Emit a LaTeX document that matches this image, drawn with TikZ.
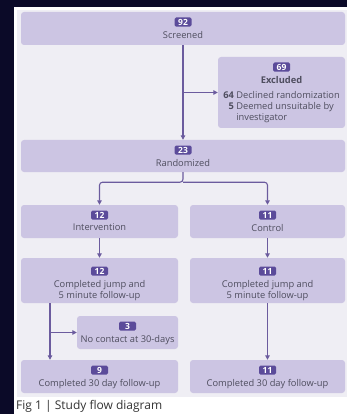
\documentclass[tikz,border=0pt]{standalone}
\usepackage{fontspec}
\setmainfont{Open Sans}
\usepackage{tikz}
\usetikzlibrary{arrows.meta, positioning}
\definecolor{darkbg}{HTML}{0B0A28}
\definecolor{panelbg}{HTML}{EFEEF4}
\definecolor{boxfill}{HTML}{CCC5E3}
\definecolor{badgefill}{HTML}{5B4B9A}
\definecolor{linecol}{HTML}{6B5B9E}
\definecolor{textcol}{HTML}{4E4D5E}
\def\labelFont{\fontsize{9.3}{11}\selectfont}
\newcommand{\flowbox}[7][5.5pt]{%
% #1 = badge offset, #2 = name, #3 = centre, #4 = width, #5 = height, #6 = count, #7 = label
\node[flowbox, minimum width=#4, minimum height=#5] (#2) at (#3) {};
\node[badge, below=#1 of #2.north] (#2n) {#6};
\node[boxlabel, below=4pt of #2n] (#2t) {#7};
}

\begin{document}
\begin{tikzpicture}[
    x=1pt, y=-1pt,
    >={Triangle[length=4.5pt,width=4.5pt]},
    flowbox/.style={rectangle, fill=boxfill, rounded corners=3pt, inner sep=0pt},
    badge/.style={rectangle, fill=badgefill, rounded corners=1.5pt, text=white,
        font=\bfseries\fontsize{8.5}{8.5}\selectfont, inner xsep=3pt, inner ysep=1.5pt,
        minimum width=17pt},
    boxlabel/.style={align=center, text=textcol, font=\labelFont, inner sep=0pt},
    link/.style={draw=linecol, line width=1.1pt, ->, rounded corners=3pt}
]
\useasboundingbox (0,0) rectangle (347,414);
\fill[darkbg] (0,0) rectangle (347,414);
\fill[white] (14,7) rectangle (347,414);
\fill[panelbg] (17,10) rectangle (347,397);

\flowbox{screen}{183,28.5}{324pt}{33pt}{92}{Screened}
\flowbox{excl}{281.5,92.5}{127pt}{71pt}{69}{\textbf{Excluded}\\[7pt]
    \begin{tabular}{@{}r@{\ }l@{}}
    \textbf{64} & Declined randomization\\
    \textbf{5} & Deemed unsuitable by\\
     & investigator
    \end{tabular}}
\flowbox{rand}{183,156}{324pt}{32pt}{23}{Randomized}
\flowbox{interv}{99.5,221.5}{157pt}{33pt}{12}{Intervention}
\flowbox{ctrl}{267.5,221.5}{155pt}{33pt}{11}{Control}
\flowbox[8.5pt]{jumpI}{99.5,280.5}{157pt}{45pt}{12}{Completed jump and\\5 minute follow-up}
\flowbox[8.5pt]{jumpC}{267.5,280.5}{155pt}{45pt}{11}{Completed jump and\\5 minute follow-up}
\flowbox{nocon}{127.5,332.5}{101pt}{33pt}{3}{No contact at 30-days}
\flowbox{finI}{99.5,376.5}{157pt}{33pt}{9}{Completed 30 day follow-up}
\flowbox{finC}{267.5,376.5}{155pt}{33pt}{11}{Completed 30 day follow-up}

% screening
\coordinate (exBr) at (screen.south |- excl.west);
\draw[link] (screen.south) -- (rand.north);
\draw[link] (exBr) -- (excl.west);

% allocation
\coordinate (split) at ([yshift=-10pt]rand.south);
\draw[link] (rand.south) -- (split) -| (interv.north);
\draw[link] (split) -| (ctrl.north);
\draw[link] (interv.south) -- (jumpI.north);
\draw[link] (ctrl.south) -- (jumpC.north);

% follow-up
\coordinate (dropI) at ([xshift=-49.5pt]jumpI.south);
\draw[link] (dropI) -- (dropI |- finI.north);
\draw[link] (dropI |- nocon.west) -- (nocon.west);
\draw[link] (jumpC.south) -- (finC.north);

\node[anchor=north west, inner sep=0pt, text=black!80, font=\fontsize{12}{13}\selectfont]
    (caption) at (16,400.5) {Fig 1 | Study flow diagram};
\end{tikzpicture}
\end{document}
